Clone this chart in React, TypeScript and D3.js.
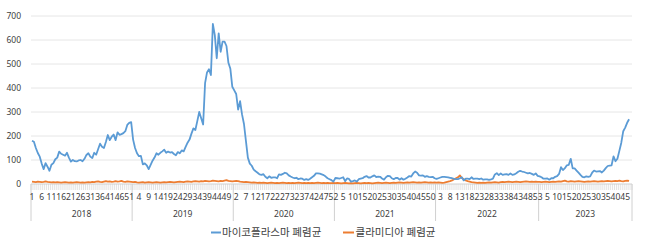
import React from 'react';
import * as d3 from 'd3';

const years = ['2018', '2019', '2020', '2021', '2022', '2023'];
const weeksPerYear = [52, 52, 52, 52, 53, 48];
const yTicks = [0, 100, 200, 300, 400, 500, 600, 700];
const seriesNames = ['마이코플라스마 폐렴균', '클라미디아 폐렴균'];

const myco2018 = [180,176,150,129,114,85,62,87,72,55,80,87,103,110,135,126,122,118,130,110,93,100,95,94,98,100,95,105,121,128,114,108,130,122,145,168,155,150,175,204,183,197,206,183,215,205,208,212,220,246,255,258];
const myco2019 = [185,150,128,116,117,82,86,78,62,80,97,110,128,122,130,136,143,130,135,131,133,125,120,133,128,140,136,155,172,185,210,232,225,262,300,274,248,420,465,478,454,667,620,524,628,551,593,593,575,505,480,405];
const myco2020 = [390,375,310,345,290,250,180,110,85,76,60,53,47,40,38,41,30,24,32,26,28,28,24,40,38,42,47,44,36,31,27,24,26,20,23,22,17,20,17,22,28,34,44,44,43,40,37,31,24,20,16,10];
const myco2021 = [25,24,22,25,28,12,23,21,10,12,15,10,20,22,24,30,33,27,27,32,36,29,31,30,23,18,28,34,33,24,20,25,25,18,24,18,22,27,33,31,44,52,47,36,35,36,30,33,30,29,30,24];
const myco2022 = [21,24,27,30,30,29,28,26,24,21,20,20,24,28,15,22,22,20,28,21,22,22,20,23,18,19,19,17,19,22,40,45,37,44,38,40,41,38,44,38,40,45,51,55,52,50,47,44,46,42,38,44,34];
const myco2023 = [32,28,22,22,23,18,24,24,30,33,42,70,58,66,78,80,105,65,65,56,47,38,30,28,32,30,32,47,56,52,53,54,48,56,66,75,77,78,115,95,105,138,172,220,235,255,270];

const chla2018 = [10,9,8,10,9,8,9,11,9,8,7,8,7,8,7,6,7,8,7,6,7,6,7,8,7,6,7,6,7,8,7,9,8,10,11,9,8,10,12,10,11,9,10,12,10,11,13,10,9,11,10,9];
const chla2019 = [8,9,7,6,7,8,6,7,8,7,6,7,8,7,6,7,8,7,8,9,8,7,8,9,10,9,8,10,11,10,9,11,12,11,10,12,11,13,12,11,12,14,13,12,11,13,12,14,16,13,12,11];
const chla2020 = [12,13,12,10,9,8,9,8,7,6,7,6,5,6,5,6,5,4,5,6,5,4,5,4,5,6,5,4,5,4,5,4,5,6,5,4,5,4,5,4,5,4,5,6,5,4,5,4,5,4,4,5];
const chla2021 = [4,5,4,3,4,5,4,3,4,3,4,5,4,3,4,5,4,5,4,3,4,5,6,5,4,5,6,5,4,5,6,5,6,7,6,5,6,7,6,7,8,7,6,7,6,7,8,7,6,7,6,7];
const chla2022 = [6,7,6,5,6,8,10,12,15,20,24,28,36,25,20,15,12,10,8,7,6,5,6,5,6,5,6,7,6,7,8,7,6,8,9,8,9,10,9,8,9,10,9,8,9,10,11,10,9,10,9,10,9];
const chla2023 = [9,8,9,10,9,8,9,10,9,10,11,10,12,14,11,10,12,11,10,11,12,11,10,9,10,11,10,11,12,11,10,11,12,11,12,13,12,11,12,13,12,14,12,11,13,14,13];

const myco = [...myco2018, ...myco2019, ...myco2020, ...myco2021, ...myco2022, ...myco2023];
const chla = [...chla2018, ...chla2019, ...chla2020, ...chla2021, ...chla2022, ...chla2023];

const W = 647, H = 245;
const left = 31, right = 632, top = 16, zeroY = 184;
const FONT = '"Noto Sans", "Noto Sans CJK KR", sans-serif';
const BLUE = '#5b9bd5';
const ORANGE = '#ed7d31';

export default function App() {
  const N = weeksPerYear.reduce((a, b) => a + b, 0);
  const x = d3.scaleLinear().domain([0, N]).range([left, right]);
  const y = d3.scaleLinear().domain([0, 700]).range([zeroY, top]);

  const cats: { week: number; idx: number }[] = [];
  const yearStarts: number[] = [];
  let idx = 0;
  weeksPerYear.forEach((n) => {
    yearStarts.push(idx);
    for (let w = 1; w <= n; w++) { cats.push({ week: w, idx }); idx++; }
  });
  yearStarts.push(idx);

  const line = d3.line<number>().x((_, i) => x(i + 0.5)).y((v) => y(v));

  return (
    <svg width={W} height={H} style={{ position: 'absolute', left: 0, top: 0, background: '#fff' }} fontFamily={FONT}>
      {yTicks.map((t) => (
        <g key={t}>
          {t > 0 && <line x1={left} x2={right} y1={y(t)} y2={y(t)} stroke="#e6e6e6" strokeWidth={1} />}
          <text x={21} y={y(t)} dy="0.35em" textAnchor="end" fontSize={8.5} fill="#404040">{t}</text>
        </g>
      ))}
      {d3.range(N + 1).map((i) => (
        <line key={'t' + i} x1={x(i)} x2={x(i)} y1={zeroY} y2={zeroY + 6} stroke="#d0d0d0" strokeWidth={0.6} />
      ))}
      {yearStarts.map((s, i) => (
        <line key={'s' + i} x1={x(s)} x2={x(s)} y1={zeroY} y2={221} stroke="#d0d0d0" strokeWidth={1} />
      ))}
      <line x1={left} x2={right} y1={zeroY} y2={zeroY} stroke="#d0d0d0" strokeWidth={1} />
      {cats.filter((c) => c.idx % 5 === 0).map((c) => (
        <text key={'w' + c.idx} x={x(c.idx + 0.5)} y={200} textAnchor="middle" fontSize={8.5} fill="#404040">{c.week}</text>
      ))}
      {years.map((yr, i) => (
        <text key={yr} x={(x(yearStarts[i]) + x(yearStarts[i + 1])) / 2} y={217} textAnchor="middle" fontSize={8.5} fill="#404040">{yr}</text>
      ))}
      <path d={line(chla) || ''} fill="none" stroke={ORANGE} strokeWidth={1.8} strokeLinejoin="round" />
      <path d={line(myco) || ''} fill="none" stroke={BLUE} strokeWidth={1.8} strokeLinejoin="round" />
      <line x1={211} x2={221} y1={232.5} y2={232.5} stroke={BLUE} strokeWidth={2} />
      <text x={222} y={232.5} dy="0.35em" fontSize={10.5} fill="#404040">{seriesNames[0]}</text>
      <line x1={343} x2={354} y1={232.5} y2={232.5} stroke={ORANGE} strokeWidth={2} />
      <text x={355.5} y={232.5} dy="0.35em" fontSize={10.5} fill="#404040">{seriesNames[1]}</text>
    </svg>
  );
}
